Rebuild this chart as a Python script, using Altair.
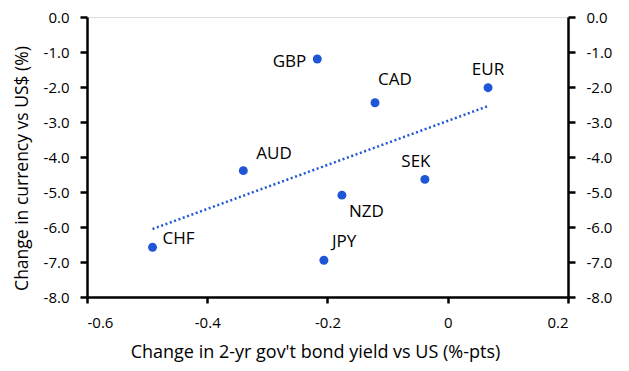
import altair as alt
import pandas as pd

currencies = ["GBP", "CAD", "EUR", "AUD", "SEK", "NZD", "CHF", "JPY"]
yield_change = [-0.217, -0.121, 0.067, -0.340, -0.038, -0.176, -0.491, -0.206]
fx_change = [-1.20, -2.45, -2.02, -4.39, -4.64, -5.09, -6.58, -6.95]

x_ticks = [-0.6, -0.4, -0.2, 0.0, 0.2]
y_ticks = [0, -1, -2, -3, -4, -5, -6, -7, -8]

df = pd.DataFrame({"ccy": currencies, "x": yield_change, "y": fx_change})

# label placement (pixels relative to point): dx, dy, align
label_layout = {
    "GBP": (-11, 3, "right"),
    "CAD": (3, -23, "left"),
    "EUR": (0, -18, "center"),
    "AUD": (13, -17, "left"),
    "SEK": (-9, -17, "center"),
    "NZD": (7, 17, "left"),
    "CHF": (10, -8, "left"),
    "JPY": (8, -18, "left"),
}

FONT = "Open Sans"
BLUE = "#1f56d8"

xscale = alt.Scale(domain=[-0.6, 0.2], nice=False, zero=False)
yscale = alt.Scale(domain=[-8, 0], nice=False, zero=False)

xaxis = alt.Axis(
    values=x_ticks, grid=False, domainColor="black", domainWidth=2.5,
    tickColor="black", tickWidth=2.5, tickSize=6, labelPadding=12,
    labelExpr="replace(format(datum.value, '.1~f'), '\u2212', '-')",
    labelFont=FONT, labelFontSize=15, labelColor="black",
    title="Change in 2-yr gov't bond yield vs US (%-pts)",
    titleFont=FONT, titleFontSize=18, titleFontWeight="normal", titleColor="black",
    titleX=228, titlePadding=13,
)

def yaxis(orient, title):
    kw = dict(
        orient=orient, values=y_ticks, grid=False, domainColor="black", domainWidth=2.5,
        tickColor="black", tickWidth=2.5, tickSize=7, labelPadding=11,
        labelExpr="replace(format(datum.value, '.1f'), '\u2212', '-')",
        labelFont=FONT, labelFontSize=15, labelColor="black",
    )
    if title:
        kw.update(title=title, titleFont=FONT, titleFontSize=17.5, titleFontWeight="normal",
                  titleColor="black", titleY=151, titlePadding=12)
    else:
        kw.update(title=None)
    return alt.Axis(**kw)

left_y = yaxis("left", "Change in currency vs US$ (%)")
right_y = yaxis("right", None)

base = alt.Chart(df)

X = alt.X("x:Q", scale=xscale, axis=xaxis)
YL = alt.Y("y:Q", scale=yscale, axis=left_y)

points = base.mark_circle(size=80, color=BLUE, opacity=1).encode(x=X, y=YL)

trend = base.transform_regression("x", "y").mark_line(
    color=BLUE, strokeWidth=2.5, strokeDash=[2, 2.6], strokeCap="butt"
).encode(x=X, y=YL)

labels = []
for c in currencies:
    dx, dy, align = label_layout[c]
    labels.append(
        base.transform_filter(alt.datum.ccy == c).mark_text(
            dx=dx, dy=dy, align=align, baseline="middle",
            font=FONT, fontSize=17, color="black",
        ).encode(x=X, y=YL, text="ccy:N")
    )

main = alt.layer(trend, points, *labels)

right_axis = base.mark_circle(size=0, opacity=0).encode(
    x=X, y=alt.Y("y:Q", scale=yscale, axis=right_y)
)

chart = alt.layer(main, right_axis).resolve_axis(y="independent").properties(
    width=481, height=280,
    autosize=alt.AutoSizeParams(type="none"),
    padding={"left": 79, "top": 9, "right": 53, "bottom": 66},
).configure_view(stroke="black", strokeWidth=2.5).configure_axis(grid=False).configure(background="white")

chart.save("out.html", embed_options={"renderer": "svg", "actions": False})
